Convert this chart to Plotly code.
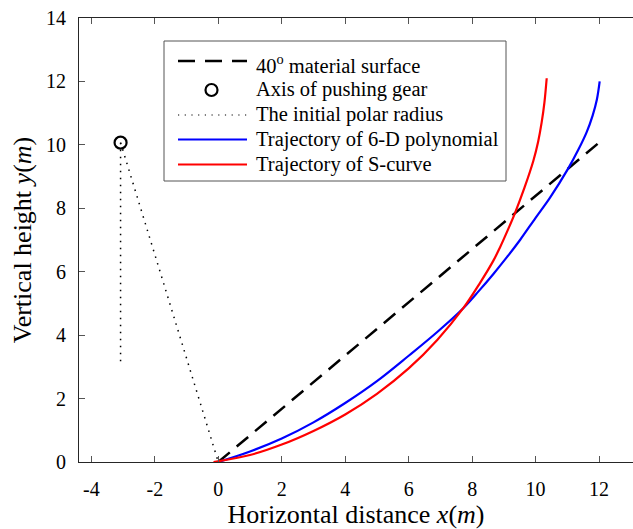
import plotly.graph_objects as go

# 40 degree material surface
surface_x = [0, 12]
surface_y = [0, 10.07]

# axis of the pushing gear
gear_x = [-3.08]
gear_y = [10.07]

# initial polar radius: vertical reference and radius to the origin
radius_x = [-3.08, -3.08, None, -3.08, 0]
radius_y = [10.07, 3.12, None, 10.07, 0]

# trajectory of the 6-D polynomial
poly_x = [0, 1.0, 2.0, 3.0, 4.0, 5.0, 6.0, 6.9, 7.72, 8.2, 8.67, 9.09, 9.51,
          10.0, 10.45, 11.03, 11.35, 11.61, 11.8, 11.93, 12.02]
poly_y = [0, 0.33, 0.74, 1.25, 1.86, 2.55, 3.35, 4.1, 4.85, 5.38, 5.93, 6.45, 7.0,
          7.7, 8.33, 9.26, 9.85, 10.4, 10.93, 11.42, 12.0]

# trajectory of the S-curve
scurve_x = [-0.15, 1.0, 2.0, 3.0, 4.0, 5.0, 6.0, 6.9, 7.72, 8.25, 8.67,
            8.87, 9.14, 9.35, 9.65, 9.93, 10.08, 10.19, 10.28, 10.35]
scurve_y = [0, 0.22, 0.55, 0.98, 1.5, 2.15, 2.95, 3.85, 4.85, 5.65, 6.35,
            6.75, 7.35, 7.85, 8.65, 9.5, 10.1, 10.7, 11.35, 12.1]

x_ticks = [-4, -2, 0, 2, 4, 6, 8, 10, 12]
x_tick_text = ["-4", "-2", "0", "2", "4", "6", "8", "10", "12"]
y_ticks = [0, 2, 4, 6, 8, 10, 12, 14]
y_tick_text = ["0", "2", "4", "6", "8", "10", "12", "14"]

legend_labels = [
    "40<sup>o</sup> material surface",
    "Axis of pushing gear",
    "The initial polar radius",
    "Trajectory of 6-D polynomial",
    "Trajectory of S-curve",
]

SERIF = "Liberation Serif"
W, H = 633, 529
ML, MR, MT, MB = 79, 0, 18, 67
PW, PH = W - ML - MR, H - MT - MB


def px(x):
    return (x - ML) / PW


def py(y):
    return (H - MB - y) / PH


fig = go.Figure()

fig.add_trace(go.Scatter(x=radius_x, y=radius_y, mode="lines",
                         line=dict(color="black", width=1.5, dash="1.5px,5.5px")))
fig.add_trace(go.Scatter(x=surface_x, y=surface_y, mode="lines",
                         line=dict(color="black", width=2.5, dash="15px,9px")))
fig.add_trace(go.Scatter(x=poly_x, y=poly_y, mode="lines",
                         line=dict(color="#0000ff", width=2.2, shape="spline", smoothing=1.0)))
fig.add_trace(go.Scatter(x=scurve_x, y=scurve_y, mode="lines",
                         line=dict(color="#ff0000", width=2.2, shape="spline", smoothing=1.0)))
fig.add_trace(go.Scatter(x=gear_x, y=gear_y, mode="markers",
                         marker=dict(symbol="circle-open", size=12, color="black",
                                     line=dict(width=2.2, color="black"))))

# legend box
shapes = [dict(type="rect", xref="paper", yref="paper",
               x0=px(164), x1=px(506), y0=py(181), y1=py(41),
               line=dict(color="#555555", width=1), fillcolor="white", layer="above")]
annotations = []
row_y = [61, 90, 115, 139.5, 164.5]
text_y = [64, 89, 114, 139, 164]
samples = [
    dict(color="black", width=2.5, dash="17px,10px"),
    None,
    dict(color="black", width=1.2, dash="1.2px,5.5px"),
    dict(color="#0000ff", width=2.2),
    dict(color="#ff0000", width=2.2),
]
for i, label in enumerate(legend_labels):
    if samples[i] is not None:
        shapes.append(dict(type="line", xref="paper", yref="paper",
                           x0=px(178), x1=px(247), y0=py(row_y[i]), y1=py(row_y[i]),
                           line=samples[i], layer="above"))
    else:
        shapes.append(dict(type="circle", xref="paper", yref="paper",
                           xsizemode="pixel", ysizemode="pixel",
                           xanchor=px(211.5), yanchor=py(row_y[i]),
                           x0=-6, x1=6, y0=-6, y1=6,
                           line=dict(color="black", width=2.2), layer="above"))
    annotations.append(dict(xref="paper", yref="paper", x=px(254), y=py(text_y[i]),
                            xanchor="left", yanchor="middle", text=label,
                            showarrow=False,
                            font=dict(family=SERIF, size=20.5, color="black")))

fig.update_layout(
    width=W, height=H,
    margin=dict(l=ML, r=MR, t=MT, b=MB),
    paper_bgcolor="white", plot_bgcolor="white",
    showlegend=False,
    shapes=shapes, annotations=annotations,
    font=dict(family=SERIF, color="black"),
)
fig.update_xaxes(
    range=[-4.39, 13.07], tickvals=x_ticks, ticktext=x_tick_text,
    ticks="inside", ticklen=6, tickcolor="#555555", showgrid=False, zeroline=False,
    showline=True, linecolor="#262626", linewidth=1, mirror="ticks",
    tickfont=dict(family=SERIF, size=20, color="black"), ticklabelstandoff=9,
    title=dict(text="Horizontal distance <i>x</i>(<i>m</i>)",
               font=dict(family=SERIF, size=26, color="black"), standoff=9),
)
fig.update_yaxes(
    range=[0, 14], tickvals=y_ticks, ticktext=y_tick_text,
    ticks="inside", ticklen=6, tickcolor="#555555", showgrid=False, zeroline=False,
    showline=True, linecolor="#262626", linewidth=1, mirror=False,
    tickfont=dict(family=SERIF, size=20, color="black"), ticklabelstandoff=8,
    title=dict(text="Vertical height <i>y</i>(<i>m</i>)",
               font=dict(family=SERIF, size=26, color="black"), standoff=6),
)

fig.write_html("out.html")
